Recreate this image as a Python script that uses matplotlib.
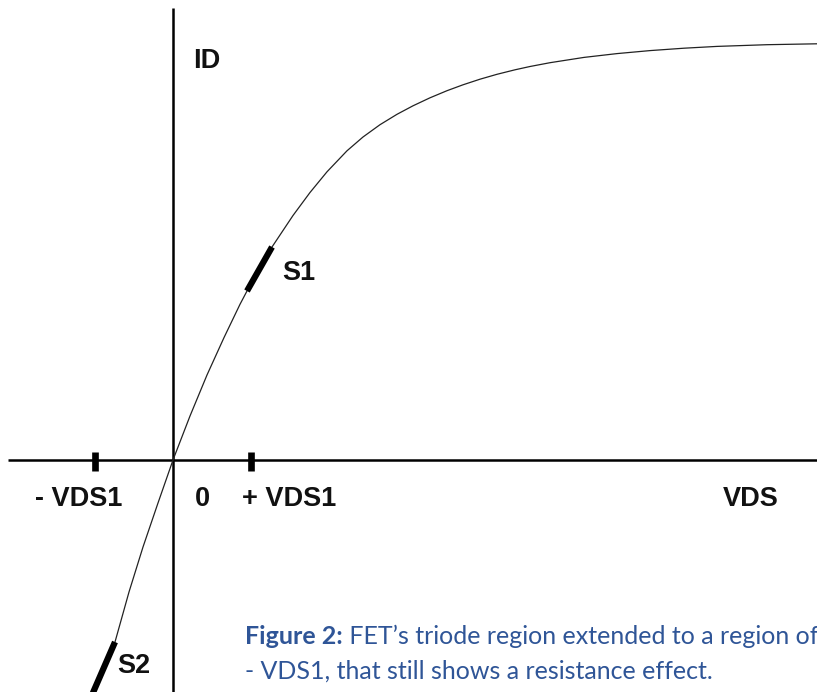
import matplotlib
matplotlib.use("Agg")
import matplotlib.pyplot as plt

# FET drain characteristic (arbitrary units)
vds = [-83.2, -80, -58, -44, -30, -15, 0, 17, 34, 51, 67, 74, 99, 120, 137, 154,
       174, 190, 207, 224, 240, 257, 274, 290, 307, 324, 342, 357, 377, 411,
       444, 477, 511, 544, 594, 644, 657]
id_ = [-240, -232, -182, -132, -87, -43, 0, 44, 85, 122.4, 155.7, 169, 213,
       244.5, 267.5, 288.2, 309.2, 323, 335.3, 345.7, 354.2, 362.2, 369.3,
       375.2, 380.8, 385.7, 390.2, 393.5, 397.3, 402.6, 406.4, 409.4, 411.8,
       413.6, 415.3, 416.2, 416.4]

# highlighted slopes
s1_vds = [74, 99]
s1_id = [169, 213]
s2_vds = [-58, -83.2]
s2_id = [-182, -240]

vds1 = 78
tick_pos = [-vds1, vds1]
tick_labels = ['- VDS1', '0', '+ VDS1']

fig = plt.figure(figsize=(8.17, 6.92), dpi=100)
ax = fig.add_axes([0, 0, 1, 1])
ax.set_xlim(-173, 644)
ax.set_ylim(-232, 460)
ax.axis('off')

# axes drawn by hand
ax.plot([-165, 650], [0, 0], color='black', lw=1.8, solid_capstyle='butt')
ax.plot([0, 0], [452, -240], color='black', lw=1.8, solid_capstyle='butt')
ax.vlines(tick_pos, -11, 8.5, color='black', lw=4.8)

# curve and thick segments
ax.plot(vds, id_, color='#222222', lw=0.9)
ax.plot(s1_vds, s1_id, color='black', lw=4.5, solid_capstyle='butt')
ax.plot(s2_vds, s2_id, color='black', lw=4.5, solid_capstyle='butt')

lab = dict(fontsize=19.5, fontweight='bold', family='Liberation Sans',
           va='baseline', ha='left', color='#111111')
ax.text(20, 392, 'ID', **lab)
ax.text(109, 180, 'S1', **lab)
ax.text(-56, -213, 'S2', **lab)
ax.text(-138, -46, tick_labels[0], **lab)
ax.text(22, -46, tick_labels[1], **lab)
ax.text(68.7, -46, tick_labels[2], **lab)
ax.text(550, -46, 'VDS', **lab)

# caption
blue = '#2F5597'
cap = dict(fontsize=18, family='Lato', color=blue)
t1 = ax.text(72, -184, 'Figure 2:', fontweight='bold', va='baseline', **cap)
ax.annotate(' FET\u2019s triode region extended to a region of negative',
            xy=(1, 0), xycoords=t1, va='bottom', ha='left', **cap)
ax.text(72, -219, '- VDS1, that still shows a resistance effect.',
        va='baseline', **cap)

fig.savefig('out.png', dpi=100)
